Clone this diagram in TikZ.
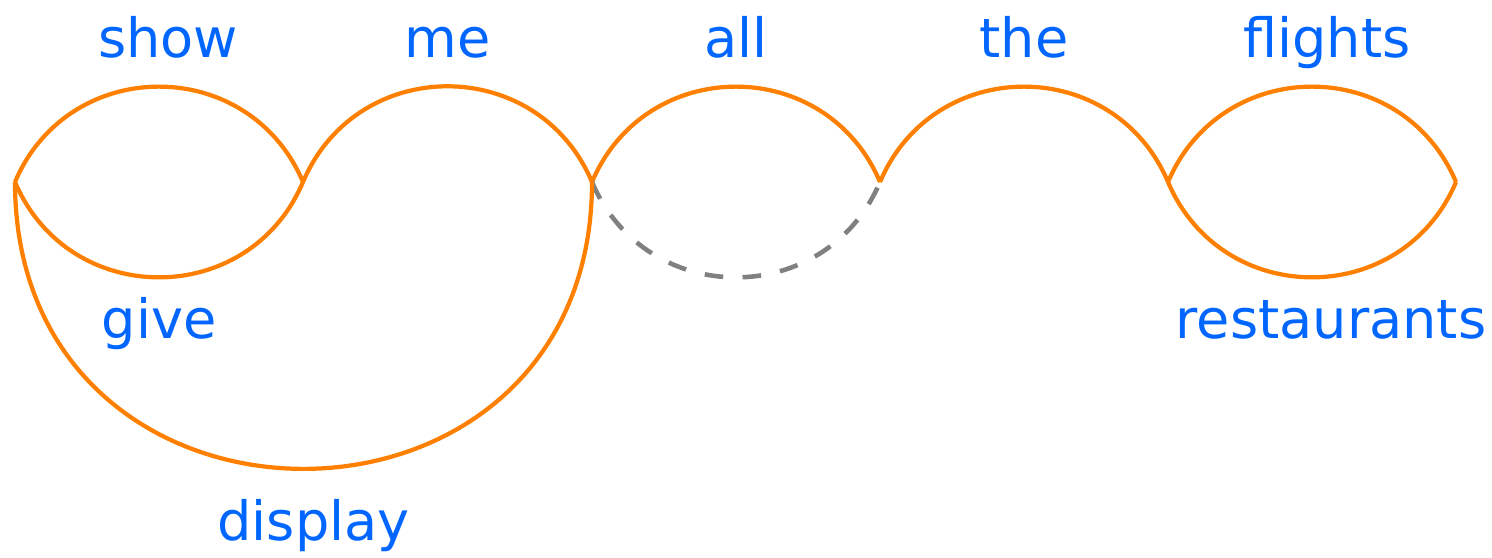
\documentclass[tikz,border=0pt]{standalone}
\usepackage{fontspec}
\setmainfont{DejaVu Sans}
\usepackage{xcolor}
\usetikzlibrary{positioning}
\definecolor{arcorange}{HTML}{FF8000}
\definecolor{wordblue}{HTML}{0066FF}
\definecolor{gapgray}{HTML}{808080}

\begin{document}
\begin{tikzpicture}[
        font=\fontsize{15.4}{18}\selectfont,
        edgearc/.style={draw=arcorange, line width=1.2pt},
        gaparc/.style={draw=gapgray, line width=1.3pt, dash pattern=on 5.3pt off 5.5pt},
        word/.style={text=wordblue, inner sep=0pt, anchor=base},
        hump/.style={bend left=67, looseness=1.23},
        dip/.style={bend right=67, looseness=1.23}
    ]
        \useasboundingbox (0,0) rectangle (14.92,-5.58);
        \coordinate (s0) at (0.15,-1.82);
        \coordinate (s1) at (3.03,-1.82);
        \coordinate (s2) at (5.92,-1.82);
        \coordinate (s3) at (8.80,-1.82);
        \coordinate (s4) at (11.68,-1.82);
        \coordinate (s5) at (14.56,-1.82);
        \draw[edgearc] (s0) to[hump] node[word, midway, xshift=0.09cm, yshift=0.29cm] (w1) {show} (s1);
        \draw[edgearc] (s1) to[hump] node[word, midway, yshift=0.29cm] (w2) {me} (s2);
        \draw[edgearc] (s2) to[hump] node[word, midway, yshift=0.29cm] (w3) {all} (s3);
        \draw[edgearc] (s3) to[hump] node[word, midway, yshift=0.29cm] (w4) {the} (s4);
        \draw[edgearc] (s4) to[hump] node[word, midway, xshift=0.15cm, yshift=0.29cm] (w5) {flights} (s5);
        \draw[edgearc] (s0) to[dip] node[word, midway, yshift=-0.61cm] (w1b) {give} (s1);
        \draw[gaparc] (s2) to[dip] (s3);
        \draw[edgearc] (s4) to[dip] node[word, midway, xshift=0.19cm, yshift=-0.61cm] (w5b) {restaurants} (s5);
        \draw[edgearc] (s0) to[bend right=90, looseness=1.70] node[word, midway, xshift=0.10cm, yshift=-0.72cm] (w1c) {display} (s2);
    \end{tikzpicture}
\end{document}
